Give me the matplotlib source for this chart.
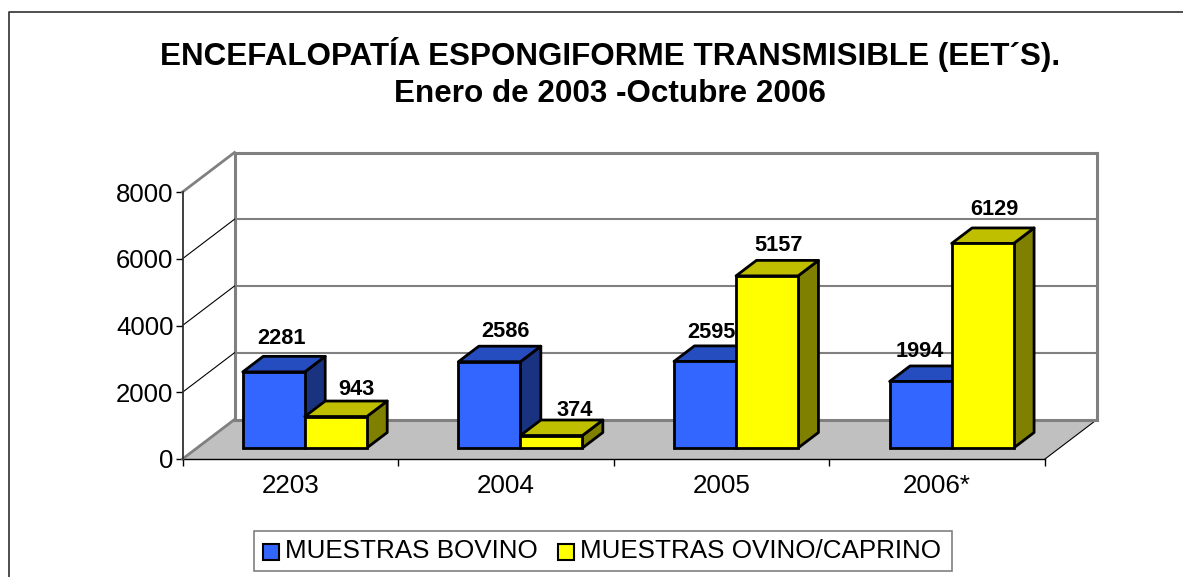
import matplotlib
matplotlib.use("Agg")
import matplotlib.pyplot as plt
from matplotlib.patches import Polygon, Rectangle
from matplotlib.lines import Line2D
from matplotlib.ticker import FixedLocator

categories = ["2203", "2004", "2005", "2006*"]
bovino = [2281, 2586, 2595, 1994]
ovino = [943, 374, 5157, 6129]
series_names = ["MUESTRAS BOVINO", "MUESTRAS OVINO/CAPRINO"]
title_lines = ["ENCEFALOPATÍA ESPONGIFORME TRANSMISIBLE (EET´S).", "Enero de 2003 -Octubre 2006"]
yticks = [0, 2000, 4000, 6000, 8000]

# label nudges in pixels (the labels were hand-placed in the original)
nudge_bovino = [(-2, 0), (6, -3), (-4, -4), (-11, -3)]
nudge_ovino = [(10, -6), (13, -8), (1, -3), (2, 1)]

W, H = 1183, 577
plt.rcParams['font.family'] = ['Liberation Sans', 'DejaVu Sans']
fig = plt.figure(figsize=(W/100, H/100), dpi=100)

# front plane of the pseudo-3D box, in pixels
L, R, T, B = 182.5, 1045, 192, 459
ax = fig.add_axes([L/W, 1-B/H, (R-L)/W, (B-T)/H])
ax.set_xlim(-0.5, 3.5)
ax.set_ylim(0, 8000)
ax.patch.set_visible(False)
for s in ['top', 'right', 'bottom']:
    ax.spines[s].set_visible(False)
ax.spines['left'].set_color('#303030')
ax.spines['left'].set_linewidth(1.3)

px_x = 4/(R-L)      # data units per pixel
px_y = 8000/(B-T)
DX, DY = 52*px_x, 39.5*px_y   # full depth of the box

def P(x, y, d=0.0):
    return (x + d*DX, y + d*DY)

GRAY = '#808080'
# floor
ax.add_patch(Polygon([P(-.5,0), P(3.5,0), P(3.5,0,1), P(-.5,0,1)], fc='#C0C0C0', ec='none', zorder=1, clip_on=False))
ax.plot(*zip(P(3.5,0), P(3.5,0,1)), color='black', lw=0.8, zorder=2, clip_on=False)
ax.plot(*zip(P(-.5,0), P(3.5,0)), color='black', lw=1.0, zorder=2, clip_on=False)
ax.plot(*zip(P(-.5,0), P(-.5,0,1)), color=GRAY, lw=2.0, zorder=2, clip_on=False)
ax.plot(*zip(P(-.5,0,1), P(3.5,0,1)), color=GRAY, lw=2.2, zorder=2, clip_on=False)
# walls
ax.plot(*zip(P(-.5,0,1), P(-.5,8000,1)), color=GRAY, lw=2.2, zorder=2, clip_on=False)
ax.plot(*zip(P(3.5,0,1), P(3.5,8000,1)), color=GRAY, lw=2.2, zorder=2, clip_on=False)
ax.plot(*zip(P(-.5,8000,1), P(3.5,8000,1)), color=GRAY, lw=2.2, zorder=2, clip_on=False)
ax.plot(*zip(P(-.5,8000), P(-.5,8000,1)), color=GRAY, lw=2.0, zorder=2, clip_on=False)
for v in yticks[1:-1]:
    ax.plot(*zip(P(-.5,v,1), P(3.5,v,1)), color=GRAY, lw=1.5, zorder=2, clip_on=False)
    ax.plot(*zip(P(-.5,v), P(-.5,v,1)), color='black', lw=0.8, zorder=2, clip_on=False)

# bars
bw = 62*px_x
d0 = 11/39.5       # front face depth
dd = 15.5/39.5     # bar depth
colors = [('#3366FF', '#264DBF', '#1A3380'), ('#FFFF00', '#BFBF00', '#808000')]
lw = 2.0
z = 3
for i, cat in enumerate(categories):
    for j, (vals, nudges) in enumerate(((bovino, nudge_bovino), (ovino, nudge_ovino))):
        v = vals[i]
        x0 = i + (j-1)*bw + d0*DX
        x1 = x0 + bw
        base = d0*DY
        front, top, side = colors[j]
        ax.add_patch(Polygon([(x1, base), (x1+dd*DX, base+dd*DY), (x1+dd*DX, base+v+dd*DY), (x1, base+v)],
                             fc=side, ec='black', lw=lw, joinstyle='round', zorder=z, clip_on=False))
        ax.add_patch(Polygon([(x0, base+v), (x1, base+v), (x1+dd*DX, base+v+dd*DY), (x0+dd*DX, base+v+dd*DY)],
                             fc=top, ec='black', lw=lw, joinstyle='round', zorder=z, clip_on=False))
        ax.bar([x0], [v], width=bw, bottom=base, align='edge', color=front, edgecolor='black',
               linewidth=lw, zorder=z, clip_on=False)
        z += 1
        nx, ny = nudges[i]
        cx = x0 + bw/2 + dd*DX/2 + nx*px_x
        ax.text(cx, base+v+dd*DY + (7+ny)*px_y, str(v), ha='center', va='bottom', fontsize=15.7,
                fontweight='bold', zorder=50)

ax.set_yticks(yticks)
ax.set_yticklabels([str(v) for v in yticks], fontsize=18.5, color='black')
ax.tick_params(axis='y', length=5, width=1, pad=1.5)
ax.xaxis.set_major_locator(FixedLocator([-.5, .5, 1.5, 2.5, 3.5]))
ax.set_xticklabels([])
ax.tick_params(axis='x', length=5, width=1)
ax.xaxis.set_minor_locator(FixedLocator(range(4)))
ax.set_xticklabels(categories, minor=True, fontsize=18.7)
ax.tick_params(axis='x', which='minor', length=0, pad=11)

# chart border: top and left only, it runs off the picture elsewhere
fig.add_artist(Line2D([8.5/W, 8.5/W, 1.0], [0, 1-11.5/H, 1-11.5/H], transform=fig.transFigure,
                      color='#303030', lw=1.2))

fig.text(610/W, 1-55/H, title_lines[0], ha='center', va='center', fontsize=22.6, fontweight='bold')
fig.text(610/W, 1-94/H, title_lines[1], ha='center', va='center', fontsize=22.6, fontweight='bold')

# legend
fig.add_artist(Rectangle((253.5/W, 1-571/H), 698/W, 40/H, transform=fig.transFigure, fc='white', ec=GRAY, lw=1.2))
fig.add_artist(Rectangle((262.5/W, 1-560/H), 16/W, 16.5/H, transform=fig.transFigure, fc=colors[0][0], ec='black', lw=1.5))
fig.add_artist(Rectangle((558/W, 1-560/H), 16/W, 16.5/H, transform=fig.transFigure, fc=colors[1][0], ec='black', lw=1.5))
fig.text(285/W, 1-551/H, series_names[0], ha='left', va='center', fontsize=18.7)
fig.text(580/W, 1-551/H, series_names[1], ha='left', va='center', fontsize=18.7)

fig.savefig("out.png", dpi=100)
